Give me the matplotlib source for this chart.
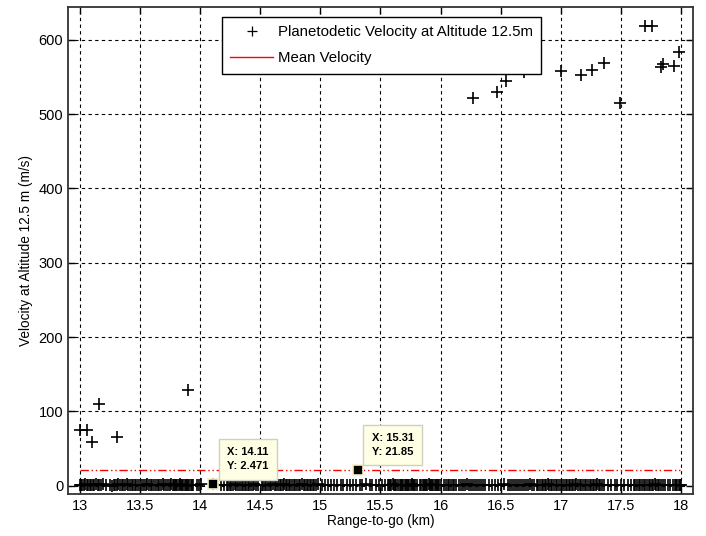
import matplotlib.pyplot as plt
from matplotlib.lines import Line2D

plt.rcParams['font.family'] = ['Liberation Sans', 'DejaVu Sans']

# scattered high-velocity samples
hi_x = [13.00, 13.06, 13.10, 13.16, 13.31, 13.90,
        16.27, 16.47, 16.54, 16.69, 17.00, 17.17, 17.26, 17.36, 17.49,
        17.70, 17.76, 17.83, 17.85, 17.94, 17.98]
hi_y = [75, 75, 59, 110, 66, 129,
        522, 529, 544, 556, 558, 553, 559, 569, 515,
        619, 619, 563, 567, 565, 583]

# near-zero samples along the bottom band (range km, velocity m/s)
band = [
    (13.00, 1.2), (13.01, 0.8), (13.02, 1.5), (13.03, 0.6), (13.045, 2.0), (13.06, 1.1),
    (13.07, 0.9), (13.08, 1.7), (13.095, 0.5), (13.11, 1.3), (13.12, 0.7), (13.135, 1.9),
    (13.15, 1.0), (13.16, 0.6), (13.175, 1.4), (13.19, 2.2), (13.22, 0.8), (13.25, 1.1),
    (13.27, 0.4), (13.28, 1.6), (13.295, 1.0), (13.31, 0.7), (13.32, 1.8), (13.335, 1.2),
    (13.35, 0.9), (13.36, 0.5), (13.375, 1.4), (13.39, 2.1), (13.40, 0.8), (13.415, 1.0),
    (13.43, 1.3), (13.44, 0.6), (13.455, 1.7), (13.47, 0.9), (13.48, 1.2), (13.50, 0.5),
    (13.515, 1.5), (13.53, 1.0), (13.545, 0.8), (13.56, 2.0), (13.575, 1.1), (13.59, 0.7),
    (13.60, 1.4), (13.615, 0.9), (13.63, 1.6), (13.645, 0.8), (13.66, 1.2), (13.675, 0.6),
    (13.69, 1.9), (13.70, 1.0), (13.715, 1.4), (13.73, 0.7), (13.745, 1.1), (13.76, 1.8),
    (13.77, 0.5), (13.78, 1.3), (13.79, 0.9), (13.80, 1.5), (13.81, 0.8), (13.82, 1.2),
    (13.83, 2.0), (13.84, 0.6), (13.85, 1.0), (13.86, 1.4), (13.87, 0.7), (13.88, 1.7),
    (13.89, 1.1), (13.90, 0.9), (13.91, 1.3), (13.92, 0.5), (13.93, 1.6), (13.94, 1.0),
    (13.97, 0.8), (13.99, 1.2), (14.01, 1.9), (14.11, 2.471), (14.17, 0.6), (14.20, 1.4),
    (14.22, 1.0), (14.235, 0.7), (14.25, 1.5), (14.26, 1.1), (14.275, 0.9), (14.29, 1.8),
    (14.30, 0.6), (14.315, 1.2), (14.33, 1.0), (14.345, 1.4), (14.36, 0.8), (14.37, 1.3),
    (14.385, 0.5), (14.40, 1.7), (14.41, 1.1), (14.425, 0.9), (14.44, 1.2), (14.45, 2.1),
    (14.465, 0.7), (14.48, 1.0), (14.51, 1.4), (14.525, 0.8), (14.54, 1.6), (14.55, 1.1),
    (14.565, 0.6), (14.58, 1.3), (14.59, 0.9), (14.605, 1.8), (14.62, 1.0), (14.63, 0.7),
    (14.645, 1.2), (14.66, 1.5), (14.67, 0.8), (14.685, 1.0), (14.70, 1.9), (14.71, 0.6),
    (14.725, 1.3), (14.74, 1.1), (14.75, 0.9), (14.765, 1.4), (14.78, 0.7), (14.79, 1.6),
    (14.805, 1.0), (14.82, 1.2), (14.83, 0.5), (14.845, 1.8), (14.86, 0.9), (14.87, 1.1),
    (14.885, 1.4), (14.90, 0.7), (14.91, 1.3), (14.925, 1.0), (14.94, 0.8), (14.95, 1.6),
    (14.965, 1.2), (14.98, 2.0), (15.01, 0.6), (15.04, 1.0), (15.06, 1.3), (15.09, 0.9),
    (15.11, 1.7), (15.14, 1.1), (15.17, 0.8), (15.19, 1.4), (15.22, 1.0), (15.25, 0.6),
    (15.27, 1.2), (15.30, 1.5), (15.33, 0.9), (15.35, 1.1), (15.38, 1.8), (15.41, 0.7),
    (15.43, 1.0), (15.46, 1.3), (15.49, 0.9), (15.51, 1.6), (15.54, 1.2), (15.56, 0.8),
    (15.57, 1.0), (15.58, 1.4), (15.59, 0.7), (15.60, 1.9), (15.61, 1.1), (15.62, 0.9),
    (15.63, 1.3), (15.645, 0.6), (15.66, 1.5), (15.67, 1.0), (15.68, 0.8), (15.69, 1.2),
    (15.70, 1.7), (15.71, 0.9), (15.72, 1.1), (15.73, 0.5), (15.74, 1.4), (15.75, 1.0),
    (15.76, 1.8), (15.77, 0.7), (15.78, 1.2), (15.79, 0.9), (15.80, 1.3), (15.83, 1.0),
    (15.84, 0.6), (15.85, 1.6), (15.86, 1.1), (15.87, 0.8), (15.88, 1.4), (15.89, 1.0),
    (15.90, 1.9), (15.91, 0.7), (15.92, 1.2), (15.93, 0.9), (15.94, 1.3), (15.95, 1.1),
    (15.96, 0.5), (15.97, 1.5), (15.98, 1.0), (15.99, 0.8), (16.00, 1.2), (16.03, 1.7),
    (16.045, 0.9), (16.06, 1.1), (16.07, 1.4), (16.085, 0.6), (16.10, 1.0), (16.11, 1.3),
    (16.125, 0.8), (16.15, 1.6), (16.17, 1.0), (16.185, 1.2), (16.20, 0.7), (16.22, 1.8),
    (16.235, 1.1), (16.25, 0.9), (16.27, 1.4), (16.285, 1.0), (16.30, 0.6), (16.32, 1.3),
    (16.335, 1.1), (16.35, 1.7), (16.37, 0.8), (16.40, 1.2), (16.43, 1.0), (16.45, 1.5),
    (16.48, 0.7), (16.50, 1.1), (16.53, 1.9), (16.56, 0.9), (16.575, 1.2), (16.59, 1.4),
    (16.61, 0.6), (16.625, 1.0), (16.64, 1.3), (16.66, 0.8), (16.675, 1.6), (16.69, 1.1),
    (16.71, 0.9), (16.725, 1.2), (16.74, 2.0), (16.76, 0.7), (16.775, 1.0), (16.80, 1.4),
    (16.81, 0.8), (16.825, 1.3), (16.84, 1.1), (16.85, 0.6), (16.865, 1.5), (16.88, 1.0),
    (16.89, 1.8), (16.905, 0.9), (16.92, 1.2), (16.93, 0.7), (16.945, 1.4), (16.96, 1.0),
    (16.97, 1.1), (16.985, 1.6), (17.00, 0.8), (17.01, 1.3), (17.025, 0.5), (17.04, 1.2),
    (17.05, 1.0), (17.065, 1.7), (17.08, 0.9), (17.09, 1.1), (17.105, 1.4), (17.12, 0.7),
    (17.13, 1.9), (17.145, 1.0), (17.16, 1.2), (17.17, 0.8), (17.185, 1.3), (17.20, 1.1),
    (17.21, 0.6), (17.225, 1.5), (17.24, 1.0), (17.25, 0.9), (17.265, 1.4), (17.28, 1.2),
    (17.29, 0.7), (17.305, 1.8), (17.32, 1.0), (17.33, 1.1), (17.345, 0.8), (17.36, 1.3),
    (17.39, 1.0), (17.42, 1.6), (17.45, 0.9), (17.47, 1.2), (17.50, 0.7), (17.53, 1.4),
    (17.56, 1.0), (17.58, 1.1), (17.61, 0.8), (17.62, 1.5), (17.635, 1.0), (17.65, 1.2),
    (17.66, 0.6), (17.675, 1.7), (17.69, 1.1), (17.70, 0.9), (17.715, 1.3), (17.73, 1.0),
    (17.74, 1.4), (17.755, 0.8), (17.77, 1.2), (17.78, 1.9), (17.795, 0.7), (17.81, 1.1),
    (17.82, 1.0), (17.835, 1.3), (17.85, 0.9), (17.87, 1.4), (17.89, 1.0), (17.91, 0.8),
    (17.93, 1.2), (17.95, 1.5), (17.96, 0.9), (17.97, 1.1), (17.98, 1.3), (17.99, 0.8),
    (18.00, 1.0),
]
band_x = [p[0] for p in band]
band_y = [p[1] for p in band]

mean_x = [13.0, 18.0]
mean_y = [21.85, 21.85]

tips_x = [14.11, 15.31]
tips_y = [2.471, 21.85]
tips_txt = ['X: 14.11\nY: 2.471', 'X: 15.31\nY: 21.85']

fig = plt.figure(figsize=(7.06, 5.36), dpi=100)
ax = fig.add_axes([0.0963, 0.0784, 0.8853, 0.9086])

ax.plot(hi_x + band_x, hi_y + band_y, '+', color='k', markersize=8, markeredgewidth=1.2)
ax.plot(mean_x, mean_y, color='red', linestyle=(0, (6, 2, 1, 2, 1, 2)), linewidth=1.0)

ax.set_xlim(12.9, 18.1)
ax.set_ylim(-11, 644)
ax.set_xticks([13, 13.5, 14, 14.5, 15, 15.5, 16, 16.5, 17, 17.5, 18])
ax.set_xticklabels(['13', '13.5', '14', '14.5', '15', '15.5', '16', '16.5', '17', '17.5', '18'])
ax.set_yticks([0, 100, 200, 300, 400, 500, 600])
ax.grid(True, color='k', linestyle=(0, (3, 3)), linewidth=0.8)
ax.tick_params(direction='in', top=True, right=True, length=5, labelsize=10.5, width=1.0)
for s in ax.spines.values():
    s.set_linewidth(1.3)
    s.set_color('#333333')
ax.set_xlabel('Range-to-go (km)', fontsize=9.8, labelpad=1)
ax.set_ylabel('Velocity at Altitude 12.5 m (m/s)', fontsize=9.8, labelpad=4)

# data tips
for tx, ty, t in zip(tips_x, tips_y, tips_txt):
    ax.plot(tx, ty, 's', color='k', markersize=7.5, markeredgecolor='#f5f0c0', markeredgewidth=1.2, zorder=5)
    ax.annotate(t, (tx, ty), xytext=(10, 9), textcoords='offset points', ha='left', va='bottom',
                fontsize=8, fontweight='bold', linespacing=1.5, zorder=6,
                bbox=dict(boxstyle='square,pad=0.75', facecolor='#ffffe6', edgecolor='#d0d0c0', linewidth=1))

handles = [Line2D([], [], color='k', marker='+', linestyle='none', markersize=7, markeredgewidth=0.9),
           Line2D([], [], color='red', linewidth=1.0)]
leg = ax.legend(handles, ['Planetodetic Velocity at Altitude 12.5m', 'Mean Velocity'],
                loc='upper left', bbox_to_anchor=(0.246, 0.979), borderaxespad=0,
                fontsize=10.8, frameon=True, fancybox=False, edgecolor='k', framealpha=1,
                handlelength=2.9, handletextpad=0.3, borderpad=0.55, labelspacing=0.8)
leg.get_frame().set_linewidth(1.0)
leg.set_zorder(10)

fig.savefig('out.png', dpi=100)
